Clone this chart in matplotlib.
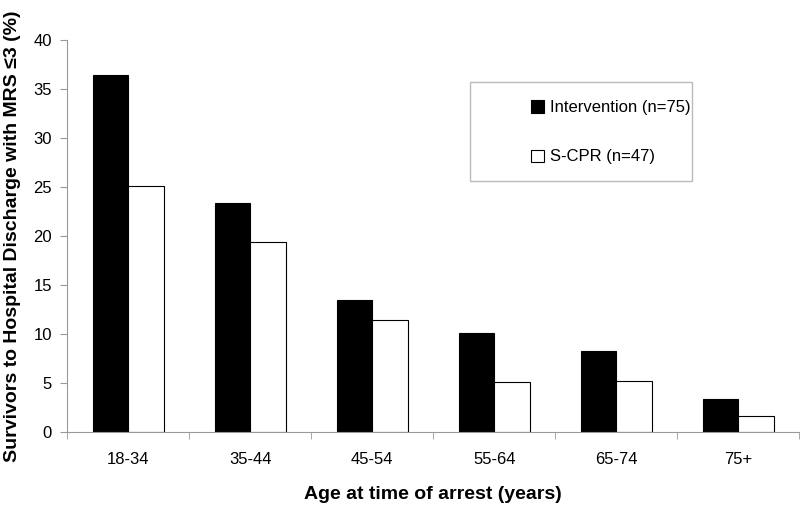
import matplotlib
matplotlib.use("Agg")
import matplotlib.pyplot as plt
from matplotlib.patches import Rectangle
import numpy as np

plt.rcParams['font.family'] = ['Liberation Sans', 'DejaVu Sans']

age_groups = ["18-34", "35-44", "45-54", "55-64", "65-74", "75+"]
intervention = [36.4, 23.4, 13.5, 10.1, 8.3, 3.4]
scpr = [25.1, 19.4, 11.4, 5.1, 5.2, 1.6]

fig = plt.figure(figsize=(8, 5.09), dpi=100)
ax = fig.add_axes([0.084, 0.151, 0.915, 0.770])

x = np.arange(len(age_groups))
w = 0.29
ax.bar(x - w / 2, intervention, w, color="black", edgecolor="black", linewidth=0.8,
       label="Intervention (n=75)")
ax.bar(x + w / 2, scpr, w, color="white", edgecolor="black", linewidth=0.8,
       label="S-CPR (n=47)")

ax.set_xlim(-0.5, len(age_groups) - 0.5)
ax.set_ylim(0, 40)
ax.set_yticks(range(0, 41, 5))
ax.set_xticks(x)
ax.set_xticklabels(age_groups)
ax.set_xticks(np.arange(-0.5, len(age_groups), 1), minor=True)
ax.tick_params(axis="x", which="major", length=0, pad=14, labelsize=12)
ax.tick_params(axis="x", which="minor", length=5, color="#999999")
ax.tick_params(axis="y", length=5, color="#999999", labelsize=12, pad=6)

for s in ["top", "right"]:
    ax.spines[s].set_visible(False)
for s in ["left", "bottom"]:
    ax.spines[s].set_color("#999999")

ax.set_xlabel("Age at time of arrest (years)", fontsize=14, fontweight="bold", labelpad=14)
ax.set_ylabel("Survivors to Hospital Discharge with MRS \u22643 (%)", fontsize=14,
              fontweight="bold")
ax.yaxis.set_label_coords(-0.063, 0.5)

# legend box drawn by hand, legend entries placed inside it
fig.patches.append(Rectangle((0.588, 0.644), 0.277, 0.195, transform=fig.transFigure,
                             facecolor="white", edgecolor="#bbbbbb", linewidth=1.0))
leg = fig.legend(loc="upper left", bbox_to_anchor=(0.664, 0.803),
                 fontsize=12, frameon=False,
                 handlelength=0.75, handleheight=0.75, labelspacing=2.05,
                 borderpad=0, handletextpad=0.4, borderaxespad=0)

fig.savefig("out.png", dpi=100)
